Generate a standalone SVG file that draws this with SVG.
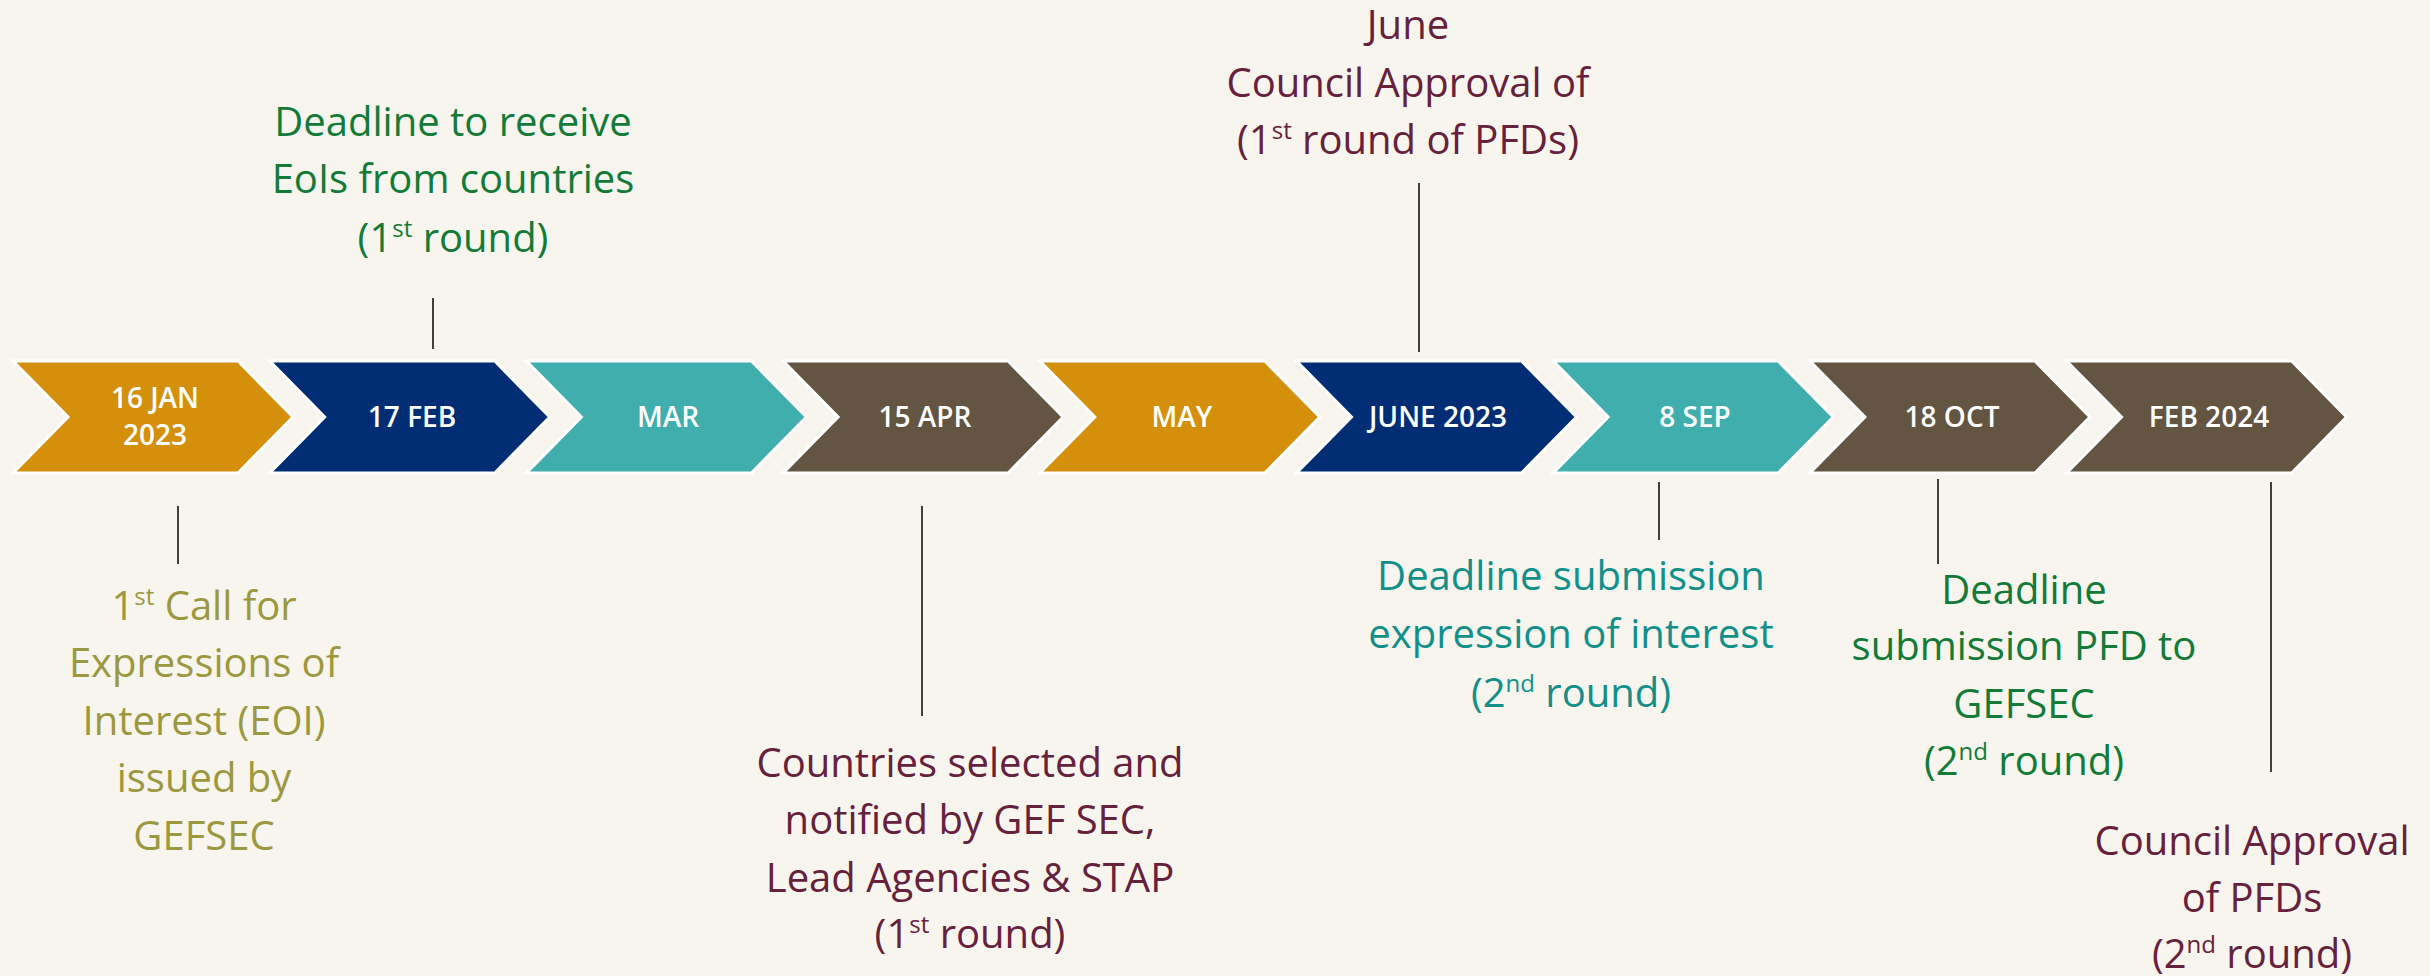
<svg xmlns="http://www.w3.org/2000/svg" width="2430" height="976" viewBox="0 0 2430 976">
<style>
.chev{stroke:#ffffff;stroke-width:3;stroke-linejoin:miter}
.gold{fill:#D48F0B}.navy{fill:#002D74}.teal{fill:#40AEAD}.brown{fill:#635542}
.lbl{font-family:"Open Sans","Liberation Sans",sans-serif;font-weight:600;font-size:28px;fill:#ffffff;text-anchor:middle}
.cap{font-family:"Open Sans","Liberation Sans",sans-serif;font-size:40px;text-anchor:middle}
.sup{font-size:24px}
.olive{fill:#9C983F}.green{fill:#137B38}.tealt{fill:#11908A}.maroon{fill:#66213C}
.conn line{stroke:#404040;stroke-width:2}
</style>
<defs>
<path id="chev" d="M0,0 H225 L280,56 L225,112 H0 L55,56 Z"/>
</defs>
<rect width="2430" height="976" fill="#F8F4EE"/>
<g id="n-jan"><use href="#chev" class="chev gold" x="13" y="361"/><text class="lbl" x="155" y="408">16 JAN</text><text class="lbl" x="155" y="445">2023</text></g>
<g id="n-feb"><use href="#chev" class="chev navy" x="269.7" y="361"/><text class="lbl" x="412" y="427">17 FEB</text></g>
<g id="n-mar"><use href="#chev" class="chev teal" x="526.4" y="361"/><text class="lbl" x="668" y="427">MAR</text></g>
<g id="n-apr"><use href="#chev" class="chev brown" x="783.1" y="361"/><text class="lbl" x="925" y="427">15 APR</text></g>
<g id="n-may"><use href="#chev" class="chev gold" x="1039.8" y="361"/><text class="lbl" x="1182" y="427">MAY</text></g>
<g id="n-jun"><use href="#chev" class="chev navy" x="1296.5" y="361"/><text class="lbl" x="1438" y="427">JUNE 2023</text></g>
<g id="n-sep"><use href="#chev" class="chev teal" x="1553.2" y="361"/><text class="lbl" x="1695" y="427">8 SEP</text></g>
<g id="n-oct"><use href="#chev" class="chev brown" x="1809.9" y="361"/><text class="lbl" x="1952" y="427">18 OCT</text></g>
<g id="n-feb24"><use href="#chev" class="chev brown" x="2066.6" y="361"/><text class="lbl" x="2209" y="427">FEB 2024</text></g>
<g id="connectors" class="conn">
<line x1="178" y1="506" x2="178" y2="564"/>
<line x1="433" y1="298" x2="433" y2="349"/>
<line x1="922" y1="506" x2="922" y2="716"/>
<line x1="1419" y1="183" x2="1419" y2="352"/>
<line x1="1659" y1="482" x2="1659" y2="540"/>
<line x1="1938" y1="479" x2="1938" y2="564"/>
<line x1="2271" y1="482" x2="2271" y2="772"/>
</g>
<g id="t-call">
<text class="cap olive" x="204" y="620">1<tspan class="sup" dy="-15">st</tspan><tspan dy="15"> Call for</tspan></text>
<text class="cap olive" x="204" y="677">Expressions of</text>
<text class="cap olive" x="204" y="735">Interest (EOI)</text>
<text class="cap olive" x="204" y="792">issued by</text>
<text class="cap olive" x="204" y="850">GEFSEC</text>
</g>
<g id="t-deadline1">
<text class="cap green" x="453" y="136">Deadline to receive</text>
<text class="cap green" x="453" y="193">EoIs from countries</text>
<text class="cap green" x="453" y="252">(1<tspan class="sup" dy="-15">st</tspan><tspan dy="15"> round)</tspan></text>
</g>
<g id="t-selected">
<text class="cap maroon" x="970" y="777">Countries selected and</text>
<text class="cap maroon" x="970" y="834">notified by GEF SEC,</text>
<text class="cap maroon" x="970" y="892">Lead Agencies &amp; STAP</text>
<text class="cap maroon" x="970" y="948">(1<tspan class="sup" dy="-15">st</tspan><tspan dy="15"> round)</tspan></text>
</g>
<g id="t-june">
<text class="cap maroon" x="1408" y="39">June</text>
<text class="cap maroon" x="1408" y="97">Council Approval of</text>
<text class="cap maroon" x="1408" y="154">(1<tspan class="sup" dy="-15">st</tspan><tspan dy="15"> round of PFDs)</tspan></text>
</g>
<g id="t-sep">
<text class="cap tealt" x="1571" y="590">Deadline submission</text>
<text class="cap tealt" x="1571" y="648">expression of interest</text>
<text class="cap tealt" x="1571" y="707">(2<tspan class="sup" dy="-15">nd</tspan><tspan dy="15"> round)</tspan></text>
</g>
<g id="t-oct">
<text class="cap green" x="2024" y="604">Deadline</text>
<text class="cap green" x="2024" y="660">submission PFD to</text>
<text class="cap green" x="2024" y="718">GEFSEC</text>
<text class="cap green" x="2024" y="775">(2<tspan class="sup" dy="-15">nd</tspan><tspan dy="15"> round)</tspan></text>
</g>
<g id="t-feb24">
<text class="cap maroon" x="2252" y="855">Council Approval</text>
<text class="cap maroon" x="2252" y="912">of PFDs</text>
<text class="cap maroon" x="2252" y="968">(2<tspan class="sup" dy="-15">nd</tspan><tspan dy="15"> round)</tspan></text>
</g>
</svg>
